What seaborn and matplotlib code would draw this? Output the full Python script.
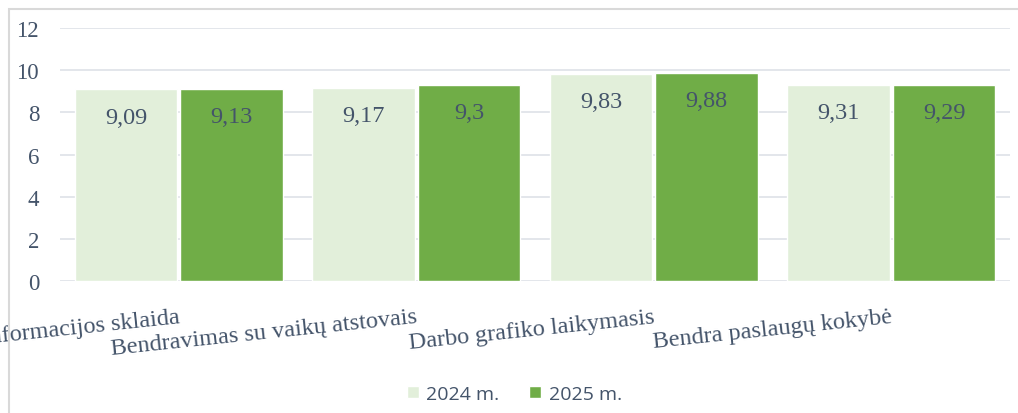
import matplotlib
matplotlib.use("Agg")
import matplotlib.pyplot as plt
import matplotlib.patches as mpatches
import pandas as pd
import seaborn as sns

# ----- data -------------------------------------------------------------------
CATEGORIES = ["Informacijos sklaida", "Bendravimas su vaikų atstovais",
              "Darbo grafiko laikymasis", "Bendra paslaugų kokybė"]
YEARS = ["2024 m.", "2025 m."]
V2024 = [9.09, 9.17, 9.83, 9.31]
V2025 = [9.13, 9.30, 9.88, 9.29]
Y_TICKS = [0, 2, 4, 6, 8, 10, 12]

# ----- style ------------------------------------------------------------------
TEXT = "#44546a"
GRID = "#e1e4e9"
PALETTE = {"2024 m.": "#e2efda", "2025 m.": "#70ad47"}

sns.set_theme(style="white")
plt.rcParams.update({
    "font.family": ["Liberation Serif", "DejaVu Serif"],
    "axes.edgecolor": GRID,
})

df = pd.DataFrame({
    "kategorija": CATEGORIES * 2,
    "metai": [YEARS[0]] * len(CATEGORIES) + [YEARS[1]] * len(CATEGORIES),
    "vertinimas": V2024 + V2025,
})

fig = plt.figure(figsize=(10.18, 4.14), dpi=100)
ax = fig.add_axes([60 / 1018, 1 - 282 / 414, 950 / 1018, 253 / 414])

sns.barplot(data=df, x="kategorija", y="vertinimas", hue="metai",
            order=CATEGORIES, hue_order=YEARS, palette=PALETTE, saturation=1,
            width=0.89, gap=0.03, errorbar=None, ax=ax, zorder=2)

# value labels inside the bars
for cont in ax.containers:
    for bar in cont:
        h = bar.get_height()
        ax.annotate(f"{h:g}".replace(".", ","),
                    (bar.get_x() + bar.get_width() / 2, h),
                    xytext=(0, -20), textcoords="offset points",
                    ha="center", va="center", fontsize=17.5, color=TEXT,
                    zorder=3)

ax.set_ylim(0, 12)
ax.set_xlim(-0.5, 3.5)
ax.set_yticks(Y_TICKS)
ax.yaxis.grid(True, color=GRID, lw=1.3, zorder=0)
ax.set_axisbelow(True)
for s in ax.spines.values():
    s.set_visible(False)
ax.set_xlabel("")
ax.set_ylabel("")
ax.tick_params(axis="y", length=0, pad=15, labelsize=16.5, labelcolor=TEXT)
ax.tick_params(axis="x", length=0, pad=18, labelsize=17.5, labelcolor=TEXT)
for t in ax.get_xticklabels():
    t.set_rotation(6)
    t.set_ha("right")
    t.set_va("top")
    t.set_rotation_mode("anchor")

# legend at the bottom
handles, labels = ax.get_legend_handles_labels()
ax.get_legend().remove()
fig.legend(handles, labels, loc="center", bbox_to_anchor=(0.505, 0.046),
           ncol=2, frameon=False, handlelength=0.62, handleheight=0.62,
           handletextpad=0.4, columnspacing=1.5,
           prop={"family": "Open Sans", "size": 14}, labelcolor=TEXT)

# chart area border (left and top edges visible)
fig.add_artist(mpatches.Rectangle((9 / 1018, -0.2), 1.2, 1 - 10 / 414 + 0.2,
                                  transform=fig.transFigure, fill=False,
                                  edgecolor="#d9d9d9", lw=1.5))

fig.savefig("out.png", dpi=100)
